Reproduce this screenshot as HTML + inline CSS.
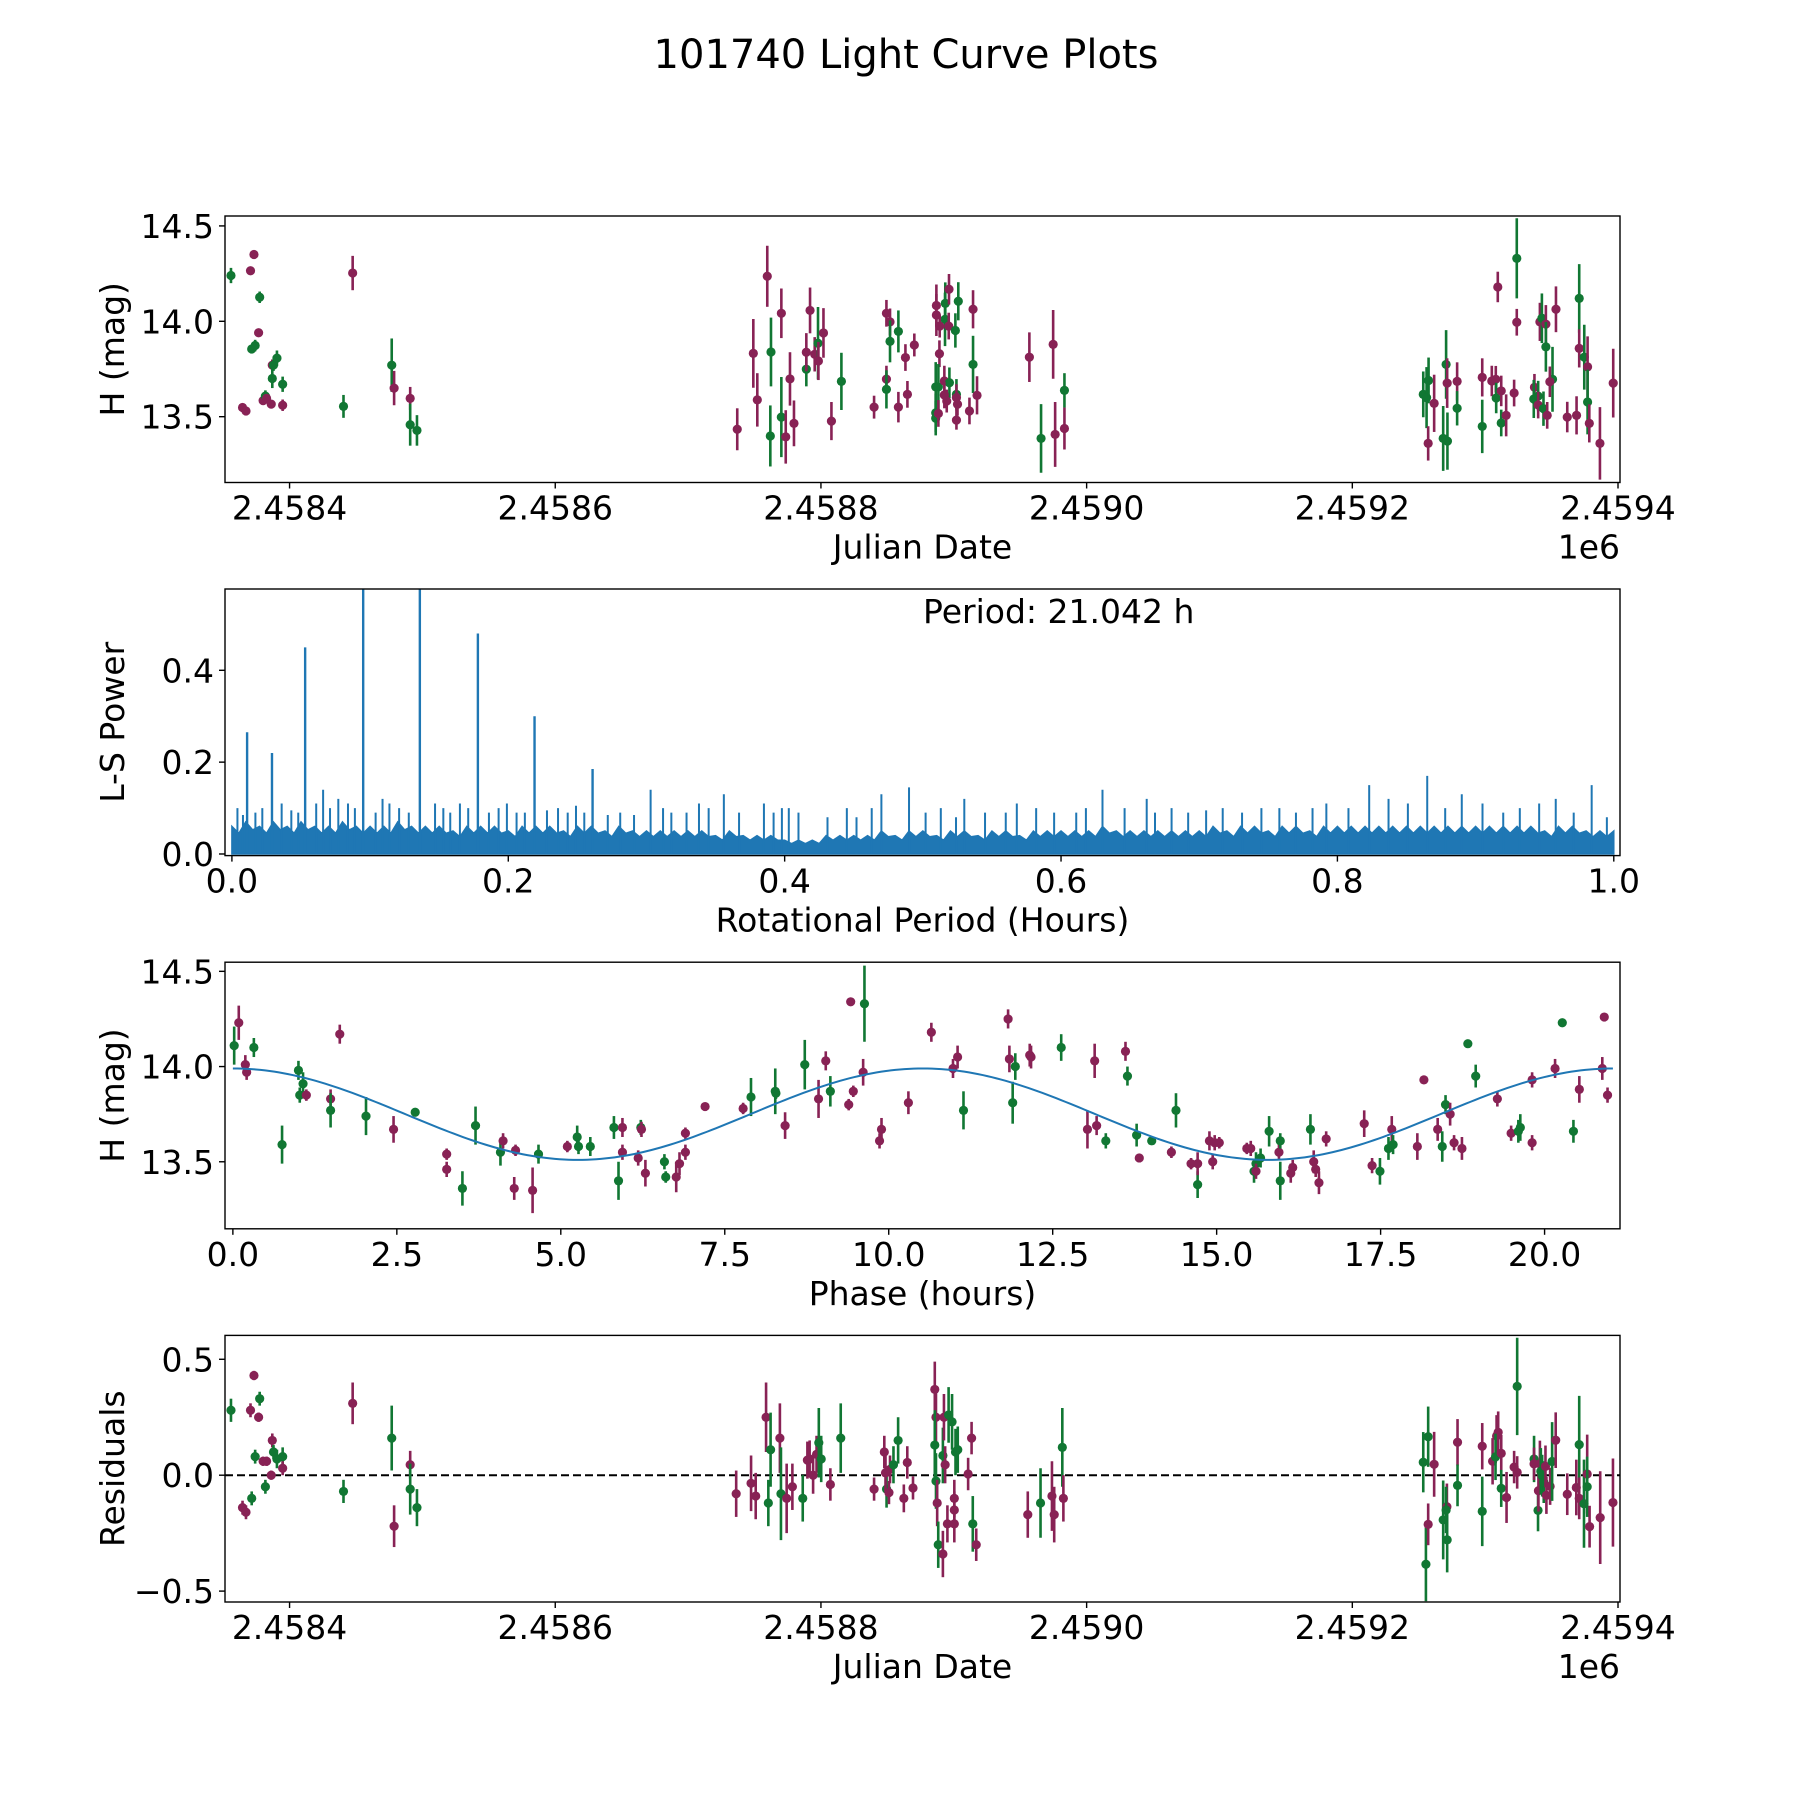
<!DOCTYPE html>
<html><head><meta charset="utf-8"><title>101740 Light Curve Plots</title>
<style>
html,body{margin:0;padding:0;background:#fff;}
svg{display:block;font-family:"DejaVu Sans","Liberation Sans",sans-serif;}
</style></head>
<body>
<svg id="fig" width="1800" height="1800" viewBox="0 0 1800 1800" xmlns="http://www.w3.org/2000/svg">
<rect width="1800" height="1800" fill="#fff"/>
<text x="906" y="68" font-size="40" text-anchor="middle">101740 Light Curve Plots</text>
</svg>
<script>
// ---------- DATA ----------
// Panel 1: JD - 2458000, magnitude, error, filter (g = green, m = magenta)
const lcJD = [355.9,364.6,367.2,370.6,373.2,371.5,374.1,376.7,377.5,380.1,381.8,382.7,386.2,387.0,387.0,387.9,390.5,394.8,394.8,440.6,447.5,476.9,478.7,490.8,490.8,495.9,
737.0,749.1,752.1,759.6,762.4,761.9,770.2,770.2,773.5,776.7,779.7,789.0,789.0,791.8,795.3,797.8,798.1,801.9,807.9,815.4,840.0,849.3,849.3,849.3,852.0,852.0,858.3,858.3,863.6,865.1,870.3,886.9,886.9,893.6,893.4,896.4,896.2,889.4,903.4,901.2,889.2,914.5,914.5,886.4,888.4,886.4,886.4,888.4,892.9,896.7,892.9,894.7,902.0,902.0,902.8,902.0,911.8,917.5,956.9,965.7,974.8,976.3,983.3,983.3,
1253.4,1255.9,1257.4,1257.1,1261.6,1268.4,1271.6,1270.6,1271.4,1278.9,1278.9,1297.8,1297.8,1305.0,1308.0,1308.3,1312.1,1312.1,1315.8,1309.5,1323.8,1323.8,1321.8,1337.1,1336.6,1339.9,1339.9,1343.9,1346.7,1341.2,1342.7,1345.7,1345.7,1350.7,1348.7,1353.3,1361.8,1368.8,1370.8,1370.8,1374.6,1377.1,1377.1,1378.4,1386.4,1396.4];
const lcMag = [14.24,13.548,13.53,14.265,14.35,13.855,13.873,13.94,14.126,13.584,13.608,13.596,13.566,13.77,13.70,13.77,13.807,13.67,13.56,13.554,14.253,13.77,13.65,13.596,13.458,13.428,
13.434,13.832,13.588,14.236,13.839,13.399,14.042,13.498,13.394,13.698,13.465,13.749,13.838,14.057,13.827,13.885,13.792,13.939,13.477,13.685,13.55,13.697,13.643,14.042,13.997,13.895,13.947,13.55,13.81,13.617,13.876,14.083,14.033,14.094,14.01,14.168,13.975,13.975,14.105,13.952,13.83,14.063,13.774,13.656,13.656,13.52,13.492,13.517,13.687,13.678,13.614,13.582,13.617,13.6,13.565,13.482,13.53,13.612,13.812,13.386,13.879,13.407,13.638,13.438,
13.617,13.6,13.69,13.36,13.57,13.386,13.372,13.774,13.676,13.685,13.544,13.706,13.449,13.687,13.696,13.598,13.635,13.467,13.507,14.18,14.33,13.995,13.624,13.654,13.593,13.608,13.561,13.542,13.507,13.997,14.016,13.985,13.866,13.696,13.683,14.063,13.498,13.507,14.12,13.858,13.812,13.761,13.577,13.465,13.36,13.676];
const lcErr = [.04,.02,.02,.02,.02,.02,.03,.02,.03,.02,.03,.02,.02,.03,.05,.03,.04,.04,.03,.06,.09,.14,.09,.06,.11,.08,
.11,.18,.14,.16,.18,.16,.13,.21,.14,.14,.12,.09,.10,.12,.09,.19,.10,.13,.10,.15,.06,.07,.10,.07,.07,.11,.11,.08,.07,.07,.06,.11,.11,.11,.14,.08,.07,.06,.10,.09,.07,.10,.15,.13,.12,.10,.09,.07,.08,.08,.07,.06,.08,.07,.06,.05,.07,.10,.13,.18,.18,.17,.09,.11,
.12,.16,.12,.09,.15,.17,.15,.18,.13,.10,.09,.10,.14,.08,.07,.08,.08,.07,.11,.08,.21,.07,.07,.07,.10,.08,.07,.09,.07,.10,.13,.10,.13,.17,.08,.12,.08,.10,.18,.10,.17,.16,.17,.10,.19,.18];
const lcBand = "gmmmmggmgmgmmmggggmgmgmmgg"+"mmmmggmgmmmgmmmgmmmgmmgmmggmmmmmmggmmmggmmgggggmmgmmgmmmmmmgmmgm"+"gggmmgggmmgmgmmgmgmmgmmmggmgmmgmggmmmmgmgmgmmm";

// Panel 2: Lomb-Scargle periodogram
const lsBase = [.06,.07,.06,.07,.06,.07,.06,.06,.07,.06, .06,.06,.07,.06,.06,.06,.05,.06,.06,.06,
 .05,.06,.06,.06,.05,.06,.06,.05,.06,.05, .05,.05,.05,.05,.05,.04,.05,.04,.04,.04,
 .03,.03,.03,.04,.04,.04,.04,.05,.04,.05, .05,.04,.05,.05,.04,.05,.05,.04,.05,.05,
 .05,.05,.05,.06,.05,.05,.05,.05,.05,.05, .05,.06,.05,.06,.06,.05,.06,.06,.05,.06,
 .06,.06,.06,.06,.06,.06,.06,.06,.06,.06, .06,.06,.06,.06,.06,.05,.06,.06,.05,.05];
const lsPeakPeriod = [0.011,0.029,0.053,0.095,0.136,0.178,0.219,0.261];
const lsPeakPower  = [0.265,0.22,0.45,0.60,0.60,0.48,0.30,0.185];
const lsMinorPeriod = [0.004,0.008,0.017,0.022,0.036,0.043,0.048,0.061,0.066,0.071,0.077,0.084,0.089,0.104,0.109,0.114,0.121,0.128,0.147,0.153,0.158,0.165,0.171,0.186,0.193,0.199,0.206,0.212,0.228,0.236,0.243,0.249,0.255,0.272,0.281,0.291,0.303,0.312,0.318,0.329,0.338,0.345,0.356,0.367,0.385,0.392,0.398,0.403,0.41,0.431,0.445,0.452,0.463,0.47,0.49,0.502,0.513,0.524,0.53,0.545,0.56,0.568,0.582,0.595,0.611,0.618,0.63,0.646,0.662,0.668,0.68,0.692,0.705,0.717,0.731,0.745,0.758,0.77,0.782,0.792,0.808,0.823,0.837,0.851,0.865,0.878,0.89,0.905,0.92,0.932,0.946,0.958,0.971,0.984,0.995];
const lsMinorPower  = [0.10,0.085,0.09,0.10,0.11,0.095,0.09,0.11,0.14,0.10,0.12,0.11,0.10,0.09,0.12,0.11,0.10,0.09,0.11,0.10,0.09,0.11,0.10,0.09,0.10,0.11,0.09,0.09,0.095,0.10,0.09,0.105,0.09,0.085,0.09,0.085,0.14,0.10,0.09,0.09,0.11,0.10,0.13,0.09,0.11,0.09,0.10,0.10,0.09,0.08,0.10,0.08,0.10,0.13,0.145,0.09,0.10,0.08,0.12,0.09,0.09,0.11,0.10,0.09,0.09,0.10,0.14,0.10,0.12,0.09,0.10,0.09,0.095,0.10,0.09,0.10,0.10,0.09,0.10,0.11,0.10,0.15,0.12,0.11,0.17,0.10,0.13,0.11,0.09,0.10,0.11,0.12,0.09,0.15,0.08];

// Panel 3: folded light curve (phase in hours)
const phPhase = [0.02,0.09,0.19,0.21,0.32,0.75,1.00,1.02,1.07,1.12,1.49,1.49,1.63,2.03,2.45,2.78,3.26,3.26,3.50,3.70,4.08,4.12,4.29,4.31,4.57,4.66,5.10,5.25,5.27,5.45,5.81,5.88,5.94,5.94,6.18,6.22,6.23,6.29,6.58,6.60,6.76,6.81,6.90,6.90,7.20,7.78,7.90,8.27,8.28,8.42,8.72,8.93,9.04,9.11,9.39,9.42,9.46,9.61,9.63,9.86,9.89,10.30,10.65,10.98,11.05,11.14,11.82,11.84,11.89,11.93,12.15,12.17,12.63,13.03,13.14,13.17,13.31,13.61,13.64,13.78,13.82,14.01,14.31,14.38,14.61,14.71,14.71,14.89,14.94,14.97,15.04,15.46,15.52,15.57,15.60,15.67,15.60,15.80,15.95,15.97,15.97,16.13,16.16,16.43,16.48,16.51,16.56,16.67,17.25,17.37,17.49,17.62,17.67,17.69,18.06,18.16,18.37,18.44,18.49,18.56,18.62,18.74,18.83,18.95,19.28,19.49,19.60,19.63,19.81,19.81,20.16,20.27,20.44,20.53,20.88,20.91,20.96];
const phMag = [14.11,14.23,14.01,13.97,14.10,13.59,13.98,13.85,13.91,13.85,13.83,13.77,14.17,13.74,13.67,13.76,13.54,13.46,13.36,13.69,13.55,13.61,13.36,13.56,13.35,13.54,13.58,13.63,13.58,13.58,13.68,13.40,13.68,13.55,13.52,13.68,13.67,13.44,13.50,13.42,13.42,13.49,13.65,13.55,13.79,13.78,13.84,13.87,13.86,13.69,14.01,13.83,14.03,13.87,13.80,14.34,13.87,13.97,14.33,13.61,13.67,13.81,14.18,13.99,14.05,13.77,14.25,14.04,13.81,14.00,14.06,14.05,14.10,13.67,14.03,13.69,13.61,14.08,13.95,13.64,13.52,13.61,13.55,13.77,13.49,13.38,13.49,13.61,13.50,13.60,13.60,13.57,13.57,13.45,13.49,13.52,13.45,13.66,13.55,13.40,13.61,13.44,13.47,13.67,13.50,13.46,13.39,13.62,13.70,13.48,13.45,13.57,13.67,13.59,13.58,13.93,13.67,13.58,13.80,13.75,13.60,13.57,14.12,13.95,13.83,13.65,13.66,13.68,13.93,13.60,13.99,14.23,13.66,13.88,13.99,14.26,13.85];
const phErr = [.1,.09,.05,.04,.05,.1,.05,.04,.06,.03,.05,.09,.05,.1,.07,.02,.03,.04,.09,.1,.07,.04,.06,.03,.12,.05,.03,.06,.04,.05,.06,.1,.05,.04,.04,.04,.04,.07,.04,.03,.08,.06,.03,.04,.02,.03,.1,.12,.03,.07,.13,.1,.05,.08,.03,.02,.03,.07,.2,.04,.06,.06,.05,.05,.06,.1,.05,.07,.11,.07,.06,.06,.07,.1,.09,.05,.04,.05,.05,.06,.02,.02,.03,.09,.03,.07,.06,.05,.04,.04,.03,.03,.04,.06,.06,.05,.04,.08,.04,.1,.04,.05,.04,.08,.06,.04,.06,.04,.07,.04,.07,.06,.07,.05,.07,.02,.06,.08,.05,.06,.04,.06,.02,.06,.04,.04,.06,.07,.04,.04,.05,.02,.06,.07,.06,.02,.04];
const phBand = "gmmmgggggm"+"mgmgmgmmgg"+"gmmmmgmggg"+"ggmmmgmmgg"+"mmmmmmgggm"+"gmmgmmmmgm"+"mmmmmgmmgg"+"mmgmmmgmgg"+"mgmgmgmmmm"+"mmmgggmgmg"+"gmmgmmmmmm"+"ggmgmmmggm"+"mmggmmggmm"+"mggmmmm";
// model fit parameters
const fitMean = [13.75];
const fitAmp = [0.24];
const fitPeriodH = [21.042];

// Panel 4: residuals (JD - 2458000)
const rsJD = [355.9,364.6,367.2,370.6,373.2,371.5,374.1,376.7,377.5,380.1,381.8,382.7,386.2,387.0,387.9,390.5,394.8,394.8,440.6,447.5,476.9,478.7,490.8,490.8,495.9,
736.2,747.4,750.9,758.7,762.1,760.4,769.1,769.9,774.2,778.5,786.3,789.8,791.5,794.1,796.7,798.4,800.2,807.1,814.9,840.0,847.7,849.4,851.2,848.6,852.0,854.6,858.1,862.4,865.0,869.3,885.7,886.6,885.7,886.6,887.5,888.3,891.8,891.8,892.6,893.5,895.2,896.1,898.7,900.4,900.4,900.4,901.3,903.0,910.8,913.4,914.3,916.9,955.7,965.3,973.9,975.6,981.7,982.5,
1253.4,1255.4,1257.1,1257.1,1261.6,1268.4,1271.2,1271.4,1270.6,1279.2,1279.2,1297.8,1297.8,1305.6,1308.6,1309.8,1307.8,1312.1,1312.1,1316.1,1321.8,1324.1,1324.1,1336.8,1336.8,1339.8,1340.1,1341.2,1341.9,1342.9,1344.1,1345.4,1346.1,1348.9,1350.4,1353.1,1361.8,1368.6,1370.8,1370.8,1374.4,1376.8,1376.8,1378.6,1386.6,1396.2];
const rsVal = [0.28,-0.14,-0.16,0.28,0.43,-0.10,0.08,0.25,0.33,0.06,-0.05,0.06,0.0,0.15,0.10,0.07,0.08,0.03,-0.07,0.31,0.16,-0.22,0.045,-0.06,-0.14,
-0.08,-0.035,-0.09,0.25,0.11,-0.12,0.16,-0.08,-0.10,-0.05,-0.10,0.065,0.07,0.0,0.09,0.14,0.07,-0.04,0.16,-0.06,0.10,-0.06,-0.075,0.01,0.025,0.045,0.15,-0.10,0.055,-0.055,0.37,0.25,0.13,-0.025,-0.12,-0.30,-0.34,0.085,0.25,0.045,-0.21,0.26,0.23,-0.10,-0.15,-0.21,0.10,0.11,0.005,0.16,-0.21,-0.30,-0.17,-0.12,-0.09,-0.17,0.12,-0.10,
0.056,-0.384,0.166,-0.212,0.047,-0.193,-0.136,-0.279,-0.15,0.142,-0.044,0.125,-0.156,0.06,0.169,0.185,0.079,0.094,-0.057,-0.096,0.035,0.012,0.383,0.07,0.049,-0.152,-0.067,0.049,0.017,-0.002,-0.03,0.038,-0.087,-0.048,0.059,0.151,-0.082,-0.053,0.132,-0.1,-0.123,0.005,-0.05,-0.222,-0.183,-0.118];
const rsErr = [.05,.03,.03,.03,.02,.03,.03,.02,.03,.02,.03,.02,.02,.03,.03,.04,.04,.03,.05,.09,.14,.09,.06,.11,.08,
.1,.12,.1,.15,.16,.1,.15,.2,.15,.1,.1,.08,.08,.08,.08,.15,.1,.07,.15,.05,.07,.08,.05,.08,.06,.08,.1,.06,.07,.05,.12,.12,.15,.12,.1,.1,.1,.12,.1,.08,.08,.12,.12,.08,.08,.08,.1,.1,.07,.07,.12,.07,.1,.15,.15,.12,.17,.1,
.13,.16,.13,.09,.14,.17,.1,.14,.1,.1,.09,.1,.15,.1,.09,.09,.1,.08,.08,.11,.07,.07,.21,.1,.07,.09,.09,.1,.1,.09,.09,.09,.08,.08,.17,.12,.09,.12,.21,.09,.19,.17,.13,.09,.2,.19];
const rsBand = "gmmmmggmgmgmmmgggmgmgmmgg"+"mmmmggmgmmgmmmmggmg"+"mmgmmmggmmm"+"mmggmgmgmmmggmmmggmmgm"+"mgmmgm"+"gggmmgmggmgmgmmmgmgmmmggmgmmgggmmmgmmmgmgmgmmm";
const jdTickVals = [2458400,2458600,2458800,2459000,2459200,2459400];
const jdTickLabels = ["2.4584","2.4586","2.4588","2.4590","2.4592","2.4594"];
const magTicks = [13.5,14.0,14.5];
const magTickLabels = ["13.5","14.0","14.5"];
const lsXTicks = [0,0.2,0.4,0.6,0.8,1.0];
const lsXTickLabels = ["0.0","0.2","0.4","0.6","0.8","1.0"];
const lsYTicks = [0,0.2,0.4];
const lsYTickLabels = ["0.0","0.2","0.4"];
const phTicks = [0,2.5,5,7.5,10,12.5,15,17.5,20];
const phTickLabels = ["0.0","2.5","5.0","7.5","10.0","12.5","15.0","17.5","20.0"];
const rsTicks = [-0.5,0,0.5];
const rsTickLabels = ["\u22120.5","0.0","0.5"];

// ---------- DRAW ----------
const NS = "http://www.w3.org/2000/svg";
const svg = document.getElementById("fig");
const GREEN = "#117733", MAG = "#882255", BLUE = "#1f77b4";
const L = 225, R = 1620, FS = 33;
function mk(tag, attrs, parent){ const e = document.createElementNS(NS, tag); for (const k in attrs) e.setAttribute(k, attrs[k]); (parent||svg).appendChild(e); return e; }
function lin(d0,d1,r0,r1){ return v => r0 + (v-d0)/(d1-d0)*(r1-r0); }

function frame(name){
  const g = mk("g", {});
  
  
  return g;
}
function border(g, top, bot){
  const r = mk("rect", {x:L, y:top, width:R-L, height:bot-top, fill:"none", stroke:"#000", "stroke-width":1.4}, g);
  
  
}
function xTicks(g, vals, labels, sx, bot){
  vals.forEach((v,i)=>{
    const x = sx(v);
    const t = mk("line", {x1:x, x2:x, y1:bot, y2:bot+6, stroke:"#000", "stroke-width":1.4}, g);
    
    
    const tx = mk("text", {x:x, y:bot+37, "font-size":FS, "text-anchor":"middle"}, g);
    tx.textContent = labels[i];
    
    
  });
}
function yTicks(g, vals, labels, sy){
  vals.forEach((v,i)=>{
    const y = sy(v);
    const t = mk("line", {x1:L-6, x2:L, y1:y, y2:y, stroke:"#000", "stroke-width":1.4}, g);
    
    
    const tx = mk("text", {x:L-11, y:y+12, "font-size":FS, "text-anchor":"end"}, g);
    tx.textContent = labels[i];
    
    
  });
}
function xLabel(g, txt, y){
  const t = mk("text", {x:(L+R)/2, y:y, "font-size":FS, "text-anchor":"middle"}, g);
  t.textContent = txt;
  
  
}
function yLabel(g, txt, cy){
  const t = mk("text", {x:0, y:0, "font-size":FS, "text-anchor":"middle", transform:`translate(124 ${cy}) rotate(-90)`}, g);
  t.textContent = txt;
  
  
}
function points(g, xs, ys, es, bands, sx, sy, top, bot){
  const cg = mk("g", {"clip-path":`url(#clip${Math.round(top)})`}, g);
  const cp = mk("clipPath", {id:"clip"+Math.round(top)}, svg);
  mk("rect", {x:L, y:top, width:R-L, height:bot-top}, cp);
  xs.forEach((xv,i)=>{
    const c = bands[i]==="g" ? GREEN : MAG;
    const x = sx(xv), y = sy(ys[i]);
    const e = mk("line", {x1:x, x2:x, y1:sy(ys[i]+es[i]), y2:sy(ys[i]-es[i]), stroke:c, "stroke-width":2.6}, cg);
    
    
    const d = mk("circle", {cx:x, cy:y, r:4.6, fill:c}, cg);
    
    
  });
}

// Panel 1
{
  const top=216, bot=482.5;
  const sx = lin(2458351.4, 2459401.5, L, R);
  const sy = lin(13.155, 14.552, bot, top);
  const g = frame('light-curve-panel');
  points(g, lcJD.map(v=>v+2458000), lcMag, lcErr, lcBand, sx, sy, top, bot);
  border(g, top, bot);
  xTicks(g, jdTickVals, jdTickLabels, sx, bot);
  yTicks(g, magTicks, magTickLabels, sy);
  xLabel(g, "Julian Date", bot+76);
  yLabel(g, "H (mag)", (top+bot)/2);
  const o = mk("text", {x:R, y:bot+76, "font-size":FS, "text-anchor":"end"}, g);
  o.textContent = "1e6";
  
  
}
// Panel 2
{
  const top=589, bot=855.6;
  const sx = lin(-0.005, 1.0045, L, R);
  const sy = lin(-0.0035, 0.577, bot, top);
  const g = frame('periodogram-panel');
  const cg = mk("g", {"clip-path":"url(#clipLS)"}, g);
  const cp = mk("clipPath", {id:"clipLS"}, svg);
  mk("rect", {x:L, y:top, width:R-L, height:bot-top}, cp);
  let pts = [[sx(0), sy(0)]];
  lsBase.forEach((v,i)=>{ pts.push([sx(i/lsBase.length), sy(v)]); pts.push([sx((i+0.5)/lsBase.length), sy(v*0.75)]); });
  pts.push([sx(1), sy(lsBase[lsBase.length-1])]); pts.push([sx(1), sy(0)]);
  const band = mk("polygon", {points: pts.map(p=>p.join(",")).join(" "), fill:BLUE, stroke:BLUE, "stroke-width":1.5}, cg);
  
  
  lsMinorPeriod.forEach((p,i)=>{
    const l = mk("line", {x1:sx(p), x2:sx(p), y1:sy(0), y2:sy(lsMinorPower[i]), stroke:BLUE, "stroke-width":2}, cg);
    
    
  });
  lsPeakPeriod.forEach((p,i)=>{
    const l = mk("line", {x1:sx(p), x2:sx(p), y1:sy(0), y2:sy(lsPeakPower[i]), stroke:BLUE, "stroke-width":2.4}, cg);
    
    
  });
  border(g, top, bot);
  xTicks(g, lsXTicks, lsXTickLabels, sx, bot);
  yTicks(g, lsYTicks, lsYTickLabels, sy);
  xLabel(g, "Rotational Period (Hours)", bot+76);
  yLabel(g, "L-S Power", (top+bot)/2);
  const pt = mk("text", {x:923, y:623, "font-size":FS, "text-anchor":"start"}, g);
  pt.textContent = "Period: 21.042 h";
  
  
}
// Panel 3
{
  const top=962.2, bot=1228.8;
  const sx = lin(-0.12, 21.15, L, R);
  const sy = lin(13.148, 14.548, bot, top);
  const g = frame('phased-curve-panel');
  points(g, phPhase, phMag, phErr, phBand, sx, sy, top, bot);
  const model = [];
  for (let k=0;k<=300;k++){ const p = fitPeriodH[0]*k/300; model.push([sx(p), sy(fitMean[0] + fitAmp[0]*Math.cos(4*Math.PI*p/fitPeriodH[0]))].join(",")); }
  const ml = mk("polyline", {points:model.join(" "), fill:"none", stroke:BLUE, "stroke-width":2}, g);
  
  
  border(g, top, bot);
  xTicks(g, phTicks, phTickLabels, sx, bot);
  yTicks(g, magTicks, magTickLabels, sy);
  xLabel(g, "Phase (hours)", bot+76);
  yLabel(g, "H (mag)", (top+bot)/2);
}
// Panel 4
{
  const top=1335.4, bot=1602;
  const sx = lin(2458351.4, 2459401.5, L, R);
  const sy = lin(-0.547, 0.603, bot, top);
  const g = frame('residuals-panel');
  const zl = mk("line", {x1:L, x2:R, y1:sy(0), y2:sy(0), stroke:"#000", "stroke-width":2, "stroke-dasharray":"8,4"}, g);
  
  
  points(g, rsJD.map(v=>v+2458000), rsVal, rsErr, rsBand, sx, sy, top, bot);
  border(g, top, bot);
  xTicks(g, jdTickVals, jdTickLabels, sx, bot);
  yTicks(g, rsTicks, rsTickLabels, sy);
  xLabel(g, "Julian Date", bot+76);
  yLabel(g, "Residuals", (top+bot)/2);
  const o = mk("text", {x:R, y:bot+76, "font-size":FS, "text-anchor":"end"}, g);
  o.textContent = "1e6";
  
  
}
</script>
</body></html>
